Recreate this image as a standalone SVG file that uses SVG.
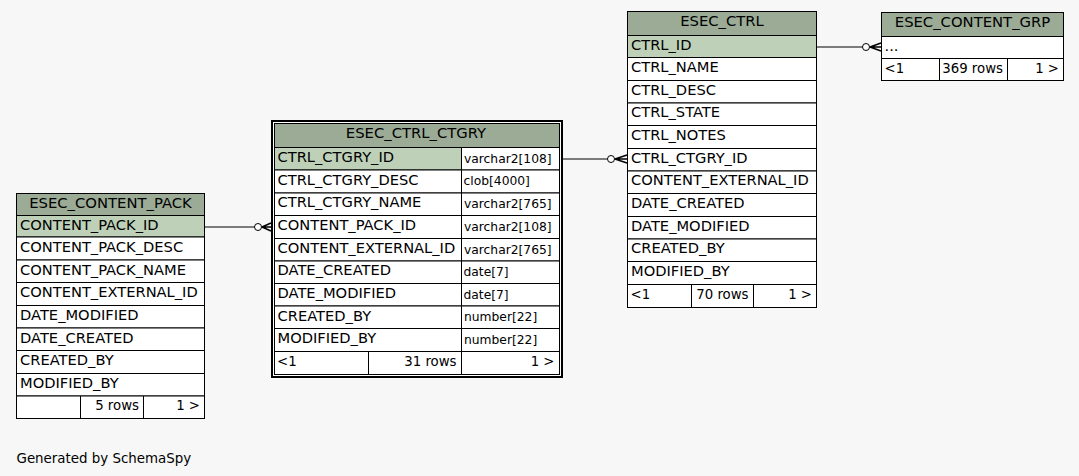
<svg xmlns="http://www.w3.org/2000/svg" width="1079" height="476" viewBox="0 0 1079 476">
<style>
text{font-family:"DejaVu Sans","Liberation Sans",sans-serif;fill:#000}
.n{font-size:14.67px}
.t{font-size:12.3px}
.f{font-size:13.3px}
.r{text-anchor:end}
.h{font-size:14.8px;text-anchor:middle}
.g{font-size:13.4px}
g rect,g line{stroke:#000;stroke-width:1}
.hd{fill:#9bab96}
.pk{fill:#bed1b8}
.c{fill:#fff}
.e line,.e path{stroke:#000;stroke-width:1;fill:none}
.e circle{fill:#fff;stroke:#000;stroke-width:1}
.e .cf{stroke-width:1.4}
</style>
<rect x="0" y="0" width="1079" height="476" style="fill:#f7f7f7;stroke:none"/>

<g id="ESEC_CONTENT_PACK">
<rect class="hd" x="16.5" y="193.5" width="188" height="22"/>
<text class="h" x="110.5" y="208">ESEC_CONTENT_PACK</text>
<rect class="pk" x="16.5" y="215.5" width="188" height="21.5"/>
<text class="n" x="20" y="229.5">CONTENT_PACK_ID</text>
<rect class="c" x="16.5" y="237" width="188" height="23"/>
<text class="n" x="20" y="251.5">CONTENT_PACK_DESC</text>
<rect class="c" x="16.5" y="260" width="188" height="22.5"/>
<text class="n" x="20" y="274.5">CONTENT_PACK_NAME</text>
<rect class="c" x="16.5" y="282.5" width="188" height="23"/>
<text class="n" x="20" y="297">CONTENT_EXTERNAL_ID</text>
<rect class="c" x="16.5" y="305.5" width="188" height="22.5"/>
<text class="n" x="20" y="320">DATE_MODIFIED</text>
<rect class="c" x="16.5" y="328" width="188" height="22.5"/>
<text class="n" x="20" y="342.5">DATE_CREATED</text>
<rect class="c" x="16.5" y="350.5" width="188" height="23"/>
<text class="n" x="20" y="365">CREATED_BY</text>
<rect class="c" x="16.5" y="373.5" width="188" height="22.5"/>
<text class="n" x="20" y="388">MODIFIED_BY</text>
<rect class="c" x="16.5" y="396" width="188" height="22.5"/>
<line x1="80.5" y1="396" x2="80.5" y2="418.5"/>
<line x1="143.5" y1="396" x2="143.5" y2="418.5"/>
<text class="f r" x="139" y="410">5 rows</text>
<text class="f r" x="200" y="410">1 &gt;</text>
</g>

<g id="ESEC_CTRL_CTGRY">
<rect class="c" x="272" y="121" width="290" height="256" style="stroke-width:2"/>
<rect class="hd" x="274.5" y="123.5" width="285" height="24"/>
<text class="h" x="416" y="138">ESEC_CTRL_CTGRY</text>
<rect class="pk" x="274.5" y="147.5" width="187" height="22.5"/>
<rect class="c" x="461.5" y="147.5" width="98" height="22.5"/>
<text class="n" x="277.5" y="161.5">CTRL_CTGRY_ID</text>
<text class="t" x="464" y="162.5">varchar2[108]</text>
<rect class="c" x="274.5" y="170" width="187" height="23"/>
<rect class="c" x="461.5" y="170" width="98" height="23"/>
<text class="n" x="277.5" y="184.5">CTRL_CTGRY_DESC</text>
<text class="t" x="463.5" y="185">clob[4000]</text>
<rect class="c" x="274.5" y="193" width="187" height="22.5"/>
<rect class="c" x="461.5" y="193" width="98" height="22.5"/>
<text class="n" x="277.5" y="207">CTRL_CTGRY_NAME</text>
<text class="t" x="464" y="208">varchar2[765]</text>
<rect class="c" x="274.5" y="215.5" width="187" height="23"/>
<rect class="c" x="461.5" y="215.5" width="98" height="23"/>
<text class="n" x="277.5" y="230">CONTENT_PACK_ID</text>
<text class="t" x="464" y="230.5">varchar2[108]</text>
<rect class="c" x="274.5" y="238.5" width="187" height="22.5"/>
<rect class="c" x="461.5" y="238.5" width="98" height="22.5"/>
<text class="n" x="277.5" y="252.5">CONTENT_EXTERNAL_ID</text>
<text class="t" x="464" y="253.5">varchar2[765]</text>
<rect class="c" x="274.5" y="261" width="187" height="22.5"/>
<rect class="c" x="461.5" y="261" width="98" height="22.5"/>
<text class="n" x="277.5" y="275">DATE_CREATED</text>
<text class="t" x="463.5" y="276">date[7]</text>
<rect class="c" x="274.5" y="283.5" width="187" height="22.5"/>
<rect class="c" x="461.5" y="283.5" width="98" height="22.5"/>
<text class="n" x="277.5" y="297.5">DATE_MODIFIED</text>
<text class="t" x="463.5" y="298.5">date[7]</text>
<rect class="c" x="274.5" y="306" width="187" height="22.5"/>
<rect class="c" x="461.5" y="306" width="98" height="22.5"/>
<text class="n" x="277.5" y="320.5">CREATED_BY</text>
<text class="t" x="464" y="321">number[22]</text>
<rect class="c" x="274.5" y="328.5" width="187" height="23"/>
<rect class="c" x="461.5" y="328.5" width="98" height="23"/>
<text class="n" x="277.5" y="343">MODIFIED_BY</text>
<text class="t" x="464" y="343.5">number[22]</text>
<rect class="c" x="274.5" y="351.5" width="285" height="23"/>
<line x1="368.5" y1="351.5" x2="368.5" y2="374.5"/>
<line x1="461.5" y1="351.5" x2="461.5" y2="374.5"/>
<text class="f" x="277" y="365.5">&lt;1</text>
<text class="f r" x="456.5" y="365.5">31 rows</text>
<text class="f r" x="554.5" y="365.5">1 &gt;</text>
</g>

<g id="ESEC_CTRL">
<rect class="hd" x="627.5" y="11.5" width="189" height="24"/>
<text class="h" x="722" y="26">ESEC_CTRL</text>
<rect class="pk" x="627.5" y="35.5" width="189" height="22"/>
<text class="n" x="631" y="49.5">CTRL_ID</text>
<rect class="c" x="627.5" y="57.5" width="189" height="23"/>
<text class="n" x="631" y="72">CTRL_NAME</text>
<rect class="c" x="627.5" y="80.5" width="189" height="22.5"/>
<text class="n" x="631" y="94.5">CTRL_DESC</text>
<rect class="c" x="627.5" y="103" width="189" height="22.5"/>
<text class="n" x="631" y="117">CTRL_STATE</text>
<rect class="c" x="627.5" y="125.5" width="189" height="23"/>
<text class="n" x="631" y="140">CTRL_NOTES</text>
<rect class="c" x="627.5" y="148.5" width="189" height="22.5"/>
<text class="n" x="631" y="162.5">CTRL_CTGRY_ID</text>
<rect class="c" x="627.5" y="171" width="189" height="22.5"/>
<text class="n" x="631" y="185">CONTENT_EXTERNAL_ID</text>
<rect class="c" x="627.5" y="193.5" width="189" height="23"/>
<text class="n" x="631" y="208">DATE_CREATED</text>
<rect class="c" x="627.5" y="216.5" width="189" height="22.5"/>
<text class="n" x="631" y="230.5">DATE_MODIFIED</text>
<rect class="c" x="627.5" y="239" width="189" height="22.5"/>
<text class="n" x="631" y="253">CREATED_BY</text>
<rect class="c" x="627.5" y="261.5" width="189" height="23"/>
<text class="n" x="631" y="276">MODIFIED_BY</text>
<rect class="c" x="627.5" y="284.5" width="189" height="23"/>
<line x1="691.5" y1="284.5" x2="691.5" y2="307.5"/>
<line x1="753.5" y1="284.5" x2="753.5" y2="307.5"/>
<text class="f" x="630.5" y="298.5">&lt;1</text>
<text class="f r" x="748.5" y="298.5">70 rows</text>
<text class="f r" x="812" y="298.5">1 &gt;</text>
</g>

<g id="ESEC_CONTENT_GRP">
<rect class="hd" x="881.5" y="12.5" width="182" height="24"/>
<text class="h" x="972.5" y="27">ESEC_CONTENT_GRP</text>
<rect class="c" x="881.5" y="36.5" width="182" height="22"/>
<text class="n" x="884.5" y="50.5">...</text>
<rect class="c" x="881.5" y="58.5" width="182" height="22"/>
<line x1="939.5" y1="58.5" x2="939.5" y2="80.5"/>
<line x1="1007.5" y1="58.5" x2="1007.5" y2="80.5"/>
<text class="f" x="884.5" y="72.5">&lt;1</text>
<text class="f r" x="1003" y="72.5">369 rows</text>
<text class="f r" x="1059" y="72.5">1 &gt;</text>
</g>

<g id="connectors" class="e">
<line x1="816.5" y1="47" x2="862.5" y2="47"/>
<circle cx="866" cy="47" r="3.5"/>
<path class="cf" d="M870,47 L881,43 M870,47 L881,51 M870,47 L881,47"/>
<line x1="563" y1="159" x2="607.5" y2="159"/>
<circle cx="611" cy="159" r="3.5"/>
<path class="cf" d="M615,159 L627,155 M615,159 L627,163 M615,159 L627,159"/>
<line x1="204.5" y1="227" x2="254.5" y2="227"/>
<circle cx="258" cy="227" r="3.5"/>
<path class="cf" d="M262,227 L271,223 M262,227 L271,231 M262,227 L271,227"/>
</g>

<text class="g" x="16.5" y="463">Generated by SchemaSpy</text>
</svg>
